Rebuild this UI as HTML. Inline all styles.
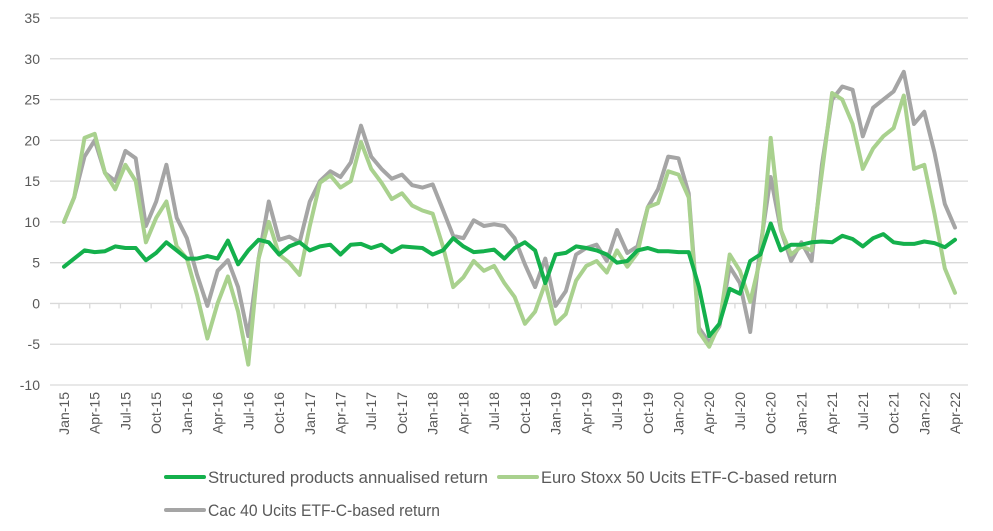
<!DOCTYPE html>
<html><head><meta charset="utf-8"><style>
body{margin:0;background:#fff;font-family:"Liberation Sans",sans-serif}
svg text{font-family:"Liberation Sans",sans-serif;fill:#595959}
</style></head><body>
<svg id="c" width="993" height="526"></svg>
<script>
const months=["Jan","Feb","Mar","Apr","May","Jun","Jul","Aug","Sep","Oct","Nov","Dec"];
const yTicks=[-10,-5,0,5,10,15,20,25,30,35];
const structured=[4.5,5.5,6.5,6.3,6.4,7.0,6.8,6.8,5.3,6.2,7.5,6.5,
5.5,5.5,5.8,5.5,7.7,4.8,6.5,7.8,7.5,6.0,7.0,7.5,
6.5,7.0,7.2,6.0,7.2,7.3,6.8,7.2,6.3,7.0,6.9,6.8,
6.0,6.5,8.0,7.0,6.3,6.4,6.6,5.5,6.8,7.5,6.5,2.5,
6.0,6.2,7.0,6.8,6.5,6.0,5.0,5.2,6.5,6.8,6.4,6.4,
6.3,6.3,2.0,-4.0,-2.5,1.8,1.2,5.2,6.0,9.8,6.5,7.2,
7.2,7.5,7.6,7.5,8.3,7.9,7.0,8.0,8.5,7.5,7.3,7.3,
7.6,7.4,6.9,7.8];
const euroStoxx=[10,13,20.3,20.8,16,14,17,15,7.5,10.5,12.5,7.0,
5.5,1.0,-4.3,0,3.3,-1,-7.5,5.5,10,6.0,5.0,3.5,
9.5,14.8,15.7,14.2,15,19.8,16.5,14.8,12.8,13.5,12.0,11.4,
11.0,7.0,2.0,3.2,5.2,4.0,4.6,2.5,0.8,-2.5,-1.0,2.5,
-2.5,-1.3,2.8,4.6,5.2,3.8,6.5,4.5,6.2,11.8,12.3,16.2,
15.8,13.0,-3.5,-5.3,-2.5,6.0,4.0,0.2,5.5,20.3,9.0,6.0,
7.0,6.5,16,25.8,25.0,22.0,16.5,19,20.5,21.5,25.5,16.5,
17.0,11.0,4.3,1.3];
const cac40=[10,13,18,20,16,15,18.7,17.8,9.5,12.5,17,10.5,
8.0,3.5,-0.3,4.0,5.3,2.0,-4.0,5.5,12.5,7.8,8.2,7.5,
12.5,15.0,16.2,15.5,17.3,21.8,18.0,16.5,15.3,15.8,14.5,14.2,
14.6,11.5,8.3,8.0,10.2,9.5,9.7,9.5,8.0,4.8,2.0,5.5,
-0.3,1.5,6.0,6.8,7.2,5.2,9.0,6.2,7.0,11.8,14.0,18.0,
17.8,13.5,-3.0,-4.8,-2.8,4.5,2.5,-3.5,7.0,15.5,9.0,5.2,
7.5,5.2,17.0,25.0,26.6,26.2,20.5,24.0,25.0,26.0,28.4,22.0,
23.5,18.5,12.2,9.3];
const categories=structured.map((_,i)=>months[i%12]+"-"+(15+Math.floor(i/12)));

const svg=document.getElementById('c');const NS="http://www.w3.org/2000/svg";
const X0=64,X1=955,Y35=18,Ym10=385;
const n=categories.length;
function xs(i){return X0+(X1-X0)*i/(n-1);}
function ys(v){return Y35+(35-v)*(Ym10-Y35)/45;}
function mk(t,a,p){const e=document.createElementNS(NS,t);for(const k in a)e.setAttribute(k,a[k]);(p||svg).appendChild(e);return e;}

yTicks.forEach(v=>{
 const g=mk('line',{x1:50,x2:968,y1:ys(v),y2:ys(v),stroke:'#d9d9d9','stroke-width':1.3});
 
 
 const t=mk('text',{x:40,y:ys(v)+5,'text-anchor':'end','font-size':14});t.textContent=v;
 
 
});
for(let i=0;i<n;i++){
 if(i%3===0){
  const tk=mk('line',{x1:xs(i)-5,x2:xs(i)-5,y1:ys(0),y2:ys(0)+5,stroke:'#d9d9d9','stroke-width':1.3});
  
  
  const t=mk('text',{x:0,y:0,'text-anchor':'end','font-size':14,transform:`translate(${xs(i)+5},392) rotate(-90)`});
  t.textContent=categories[i];
  
  
 }
}
function series(arr,color,name){
 const d=arr.map((v,i)=>(i?'L':'M')+xs(i).toFixed(1)+' '+ys(v).toFixed(1)).join(' ');
 const p=mk('path',{d:d,fill:'none',stroke:color,'stroke-width':4,'stroke-linejoin':'round','stroke-linecap':'round'});
 
 
}
series(cac40,'#a5a5a5','cac40-line');
series(euroStoxx,'#a9d18e','euro-stoxx-line');
series(structured,'#14b04c','structured-products-line');

const legend=[["Structured products annualised return",'#14b04c',165,477,280],["Euro Stoxx 50 Ucits ETF-C-based return",'#a9d18e',498,477,296],["Cac 40 Ucits ETF-C-based return",'#a5a5a5',165,510,232]];
legend.forEach(l=>{
 const g=mk('g',{});
 
 
 mk('line',{x1:l[2]+1,x2:l[2]+39,y1:l[3],y2:l[3],stroke:l[1],'stroke-width':4,'stroke-linecap':'round'},g);
 const t=mk('text',{x:l[2]+43,y:l[3]+6,'font-size':17,textLength:l[4],lengthAdjust:'spacingAndGlyphs'},g);t.textContent=l[0];
});
</script>
</body></html>
